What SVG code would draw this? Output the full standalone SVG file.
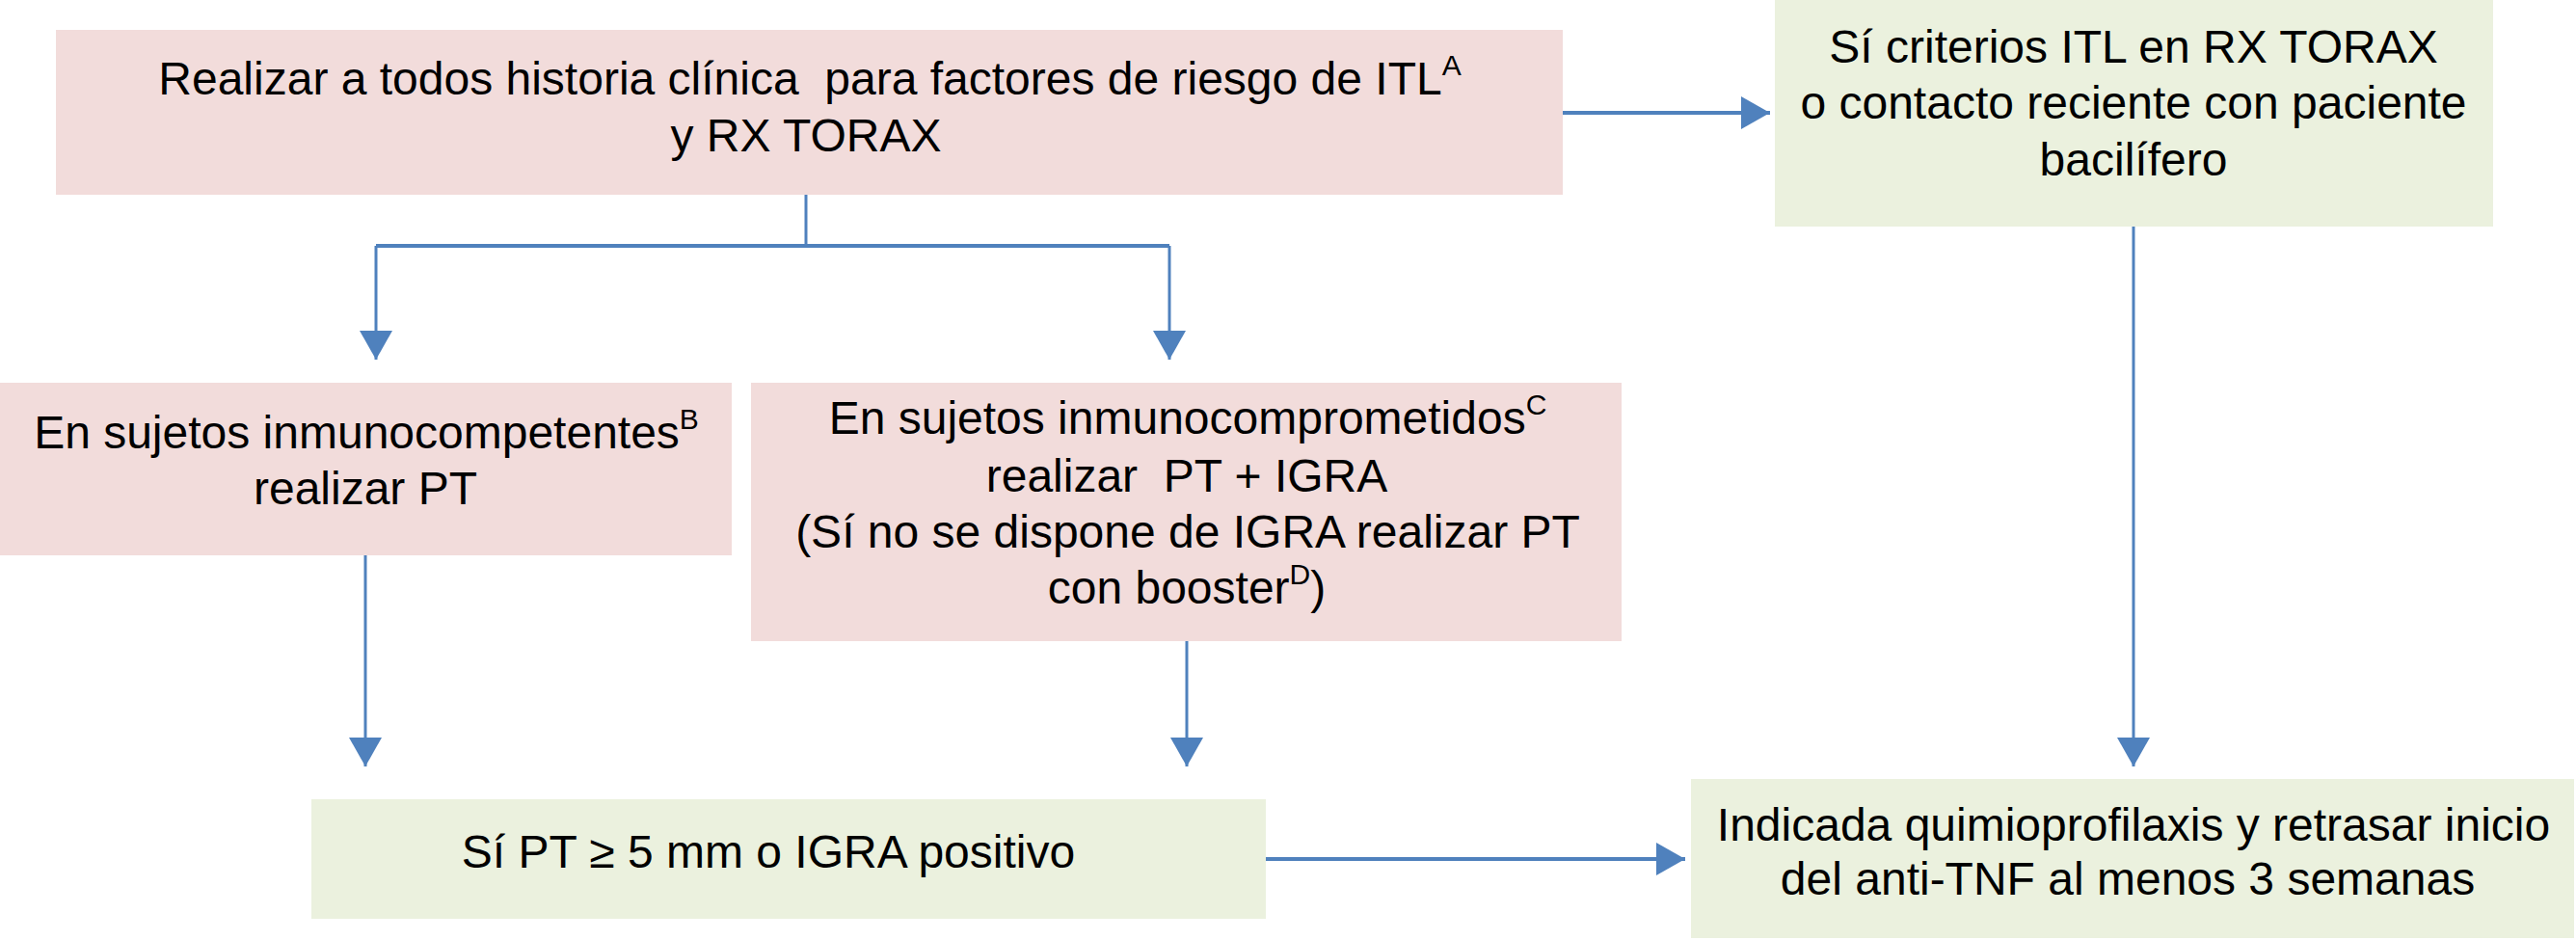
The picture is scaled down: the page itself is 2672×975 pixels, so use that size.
<svg xmlns="http://www.w3.org/2000/svg" width="2672" height="975" viewBox="0 0 2672 975">
<defs>
<style>
.pink{fill:#F2DCDB}
.green{fill:#EBF1DE}
.t{font-family:"Liberation Sans",Arial,Helvetica,sans-serif;font-size:48px;fill:#000;text-anchor:middle}
.sup{font-size:30px}
.c{fill:none;stroke:#4F81BD;stroke-width:3}
.h{stroke-width:4}
</style>
<marker id="ah" markerUnits="userSpaceOnUse" markerWidth="32" markerHeight="34" refX="30" refY="17" orient="auto" viewBox="0 0 32 34">
<path d="M0,0 L30,17 L0,34 Z" fill="#4F81BD"/>
</marker>
</defs>
<rect width="2672" height="975" fill="#fff"/>
<g id="connectors">
<path class="c" d="M836,202 V255"/>
<path class="c h" d="M390,255 H1213"/>
<path class="c" d="M390,255 V373" marker-end="url(#ah)"/>
<path class="c" d="M1213,255 V373" marker-end="url(#ah)"/>
<path class="c h" d="M1621,117 H1836" marker-end="url(#ah)"/>
<path class="c" d="M379,576 V795" marker-end="url(#ah)"/>
<path class="c" d="M1231,665 V795" marker-end="url(#ah)"/>
<path class="c" d="M2213,235 V795" marker-end="url(#ah)"/>
<path class="c h" d="M1313,891 H1748" marker-end="url(#ah)"/>
</g>
<g id="node1">
<rect class="pink" x="58" y="31" width="1563" height="171"/>
<text class="t" x="840" y="98" xml:space="preserve">Realizar a todos historia clínica  para factores de riesgo de ITL<tspan class="sup" dy="-20">A</tspan></text>
<text class="t" x="836" y="157">y RX TORAX</text>
</g>
<g id="node6">
<rect class="green" x="1841" y="0" width="745" height="235"/>
<text class="t" x="2213" y="65">Sí criterios ITL en RX TORAX</text>
<text class="t" x="2213" y="123">o contacto reciente con paciente</text>
<text class="t" x="2213" y="182">bacilífero</text>
</g>
<g id="node2">
<rect class="pink" x="0" y="397" width="759" height="179"/>
<text class="t" x="380" y="465">En sujetos inmunocompetentes<tspan class="sup" dy="-20">B</tspan></text>
<text class="t" x="379" y="523">realizar PT</text>
</g>
<g id="node3">
<rect class="pink" x="779" y="397" width="903" height="268"/>
<text class="t" x="1232" y="450">En sujetos inmunocomprometidos<tspan class="sup" dy="-20">C</tspan></text>
<text class="t" x="1231" y="510" xml:space="preserve">realizar  PT + IGRA</text>
<text class="t" x="1232" y="568">(Sí no se dispone de IGRA realizar PT</text>
<text class="t" x="1231" y="626">con booster<tspan class="sup" dy="-20">D</tspan><tspan dy="20">)</tspan></text>
</g>
<g id="node4">
<rect class="green" x="323" y="829" width="990" height="124"/>
<text class="t" x="797" y="900">Sí PT ≥ 5 mm o IGRA positivo</text>
</g>
<g id="node5">
<rect class="green" x="1754" y="808" width="916" height="165"/>
<text class="t" x="2213" y="872">Indicada quimioprofilaxis y retrasar inicio</text>
<text class="t" x="2207" y="928">del anti-TNF al menos 3 semanas</text>
</g>
</svg>
